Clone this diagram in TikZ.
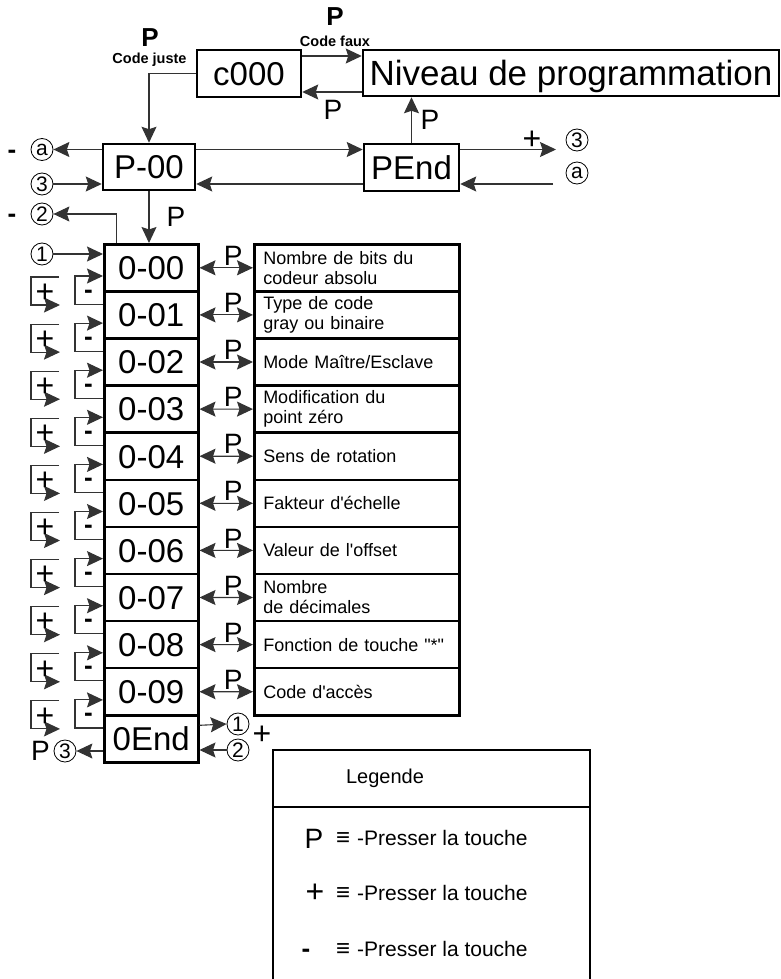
\documentclass[tikz,border=0pt]{standalone}
\usepackage{fontspec}
\setmainfont{Liberation Sans}
\usetikzlibrary{arrows.meta,calc}
\tikzset{
  box/.style={draw, line width=2.5pt, inner sep=0, text height=23.6pt, text depth=0pt, font=\fontsize{33}{36}\selectfont},
  rowbox/.style={box, anchor=north west, minimum width=94, minimum height=47.1},
  desc/.style={draw, line width=2.5pt, anchor=north west, minimum width=205, minimum height=47.1, text width=187, inner xsep=9, inner ysep=0, align=left, font=\fontsize{18}{20}\selectfont},
  tip/.tip={Stealth[length=16pt,width=15pt,inset=2.5pt]},
  con/.style={draw=black!80, line width=1.1pt, -tip},
  dcon/.style={draw=black!80, line width=1.1pt, tip-tip},
  lbl/.style={inner sep=0, font=\fontsize{28}{30}\selectfont},
  plus/.style={inner sep=0, font=\fontsize{32}{34}\selectfont},
  minus/.style={inner sep=0, anchor=base, font=\fontsize{26}{28}\selectfont\bfseries},
  bold/.style={inner sep=0, font=\fontsize{26}{28}\selectfont\bfseries},
  small/.style={inner sep=0, font=\fontsize{14.5}{16}\selectfont\bfseries},
  circ/.style={draw, circle, line width=0.8pt, minimum size=22pt, inner sep=0, font=\fontsize{21}{21}\selectfont},
  leg/.style={inner sep=0, font=\fontsize{21}{23}\selectfont},
}
\begin{document}
\begin{tikzpicture}[x=1pt,y=-1pt]
\path[use as bounding box] (0,0) rectangle (781,979);

% top boxes
\node[box, minimum width=104, minimum height=47] (c) at (249,73.5) {c000};
\node[box, minimum width=416, minimum height=46, font=\fontsize{35}{38}\selectfont, text height=25pt] (niv) at (571,73) {Niveau de programmation};
\node[box, minimum width=92, minimum height=46] (p00) at (149,167) {P-00};
\node[box, minimum width=95, minimum height=47] (pend) at (411.5,167.5) {PEnd};

% top labels
\node[bold] (pj) at (150,37.5) {P};
\node[small] (cj) at (149.5,60) {Code juste};
\node[bold] (pf) at (335,17) {P};
\node[small] (cf) at (335,41) {Code faux};
\node[lbl] (pb) at (333,110) {P};
\node[lbl] (pu) at (430,120) {P};

% circles
\node[circ] (ca) at (42,149.5) {a};
\node[circ] (c3) at (42,184) {3};
\node[circ] (c2) at (42,214) {2};
\node[circ] (c1) at (42,254) {1};
\node[minus] (m1) at (12,158) {-};
\node[minus] (m2) at (12,222) {-};
\node[circ] (c3r) at (577,140) {3};
\node[circ] (car) at (577,173) {a};
\node[plus] (pr) at (532,140) {+};
\coordinate (e3) at (556,149.5);
\coordinate (sa) at (553,184);

% top connectors
\draw[con] (c.west) -| (p00.north);
\draw[con] ([yshift=17.5pt]c.east) -- ([yshift=17.5pt]c.east -| niv.west);
\draw[con] ([yshift=-19pt]niv.west) -- ([yshift=-19pt]niv.west -| c.east);
\draw[con] (pend.north) -- (pend.north |- niv.south);
\draw[con] ([yshift=17.5pt]p00.west) -- (ca.east);
\draw[con] (c3.east) -- (c3.east -| p00.west);
\draw[con] ([yshift=17.5pt]p00.east) -- ([yshift=17.5pt]p00.east -| pend.west);
\draw[con] ([yshift=-16.5pt]pend.west) -- ([yshift=-16.5pt]pend.west -| p00.east);
\draw[con] ([yshift=18pt]pend.east) -- (e3);
\draw[con] (sa) -- (sa -| pend.east);

% rows
\foreach \i/\t in {0/0-00,1/0-01,2/0-02,3/0-03,4/0-04,5/0-05,6/0-06,7/0-07,8/0-08,9/0-09,10/0End}
  \node[rowbox] (r\i) at (103,{243+47.1*\i}) {\t};

\node[desc] (d0) at (253,243) {Nombre de bits du\\codeur absolu};
\node[desc] (d1) at (253,290.1) {Type de code\\gray ou binaire};
\node[desc] (d2) at (253,337.2) {Mode Maître/Esclave};
\node[desc] (d3) at (253,384.3) {Modification du\\point zéro};
\node[desc] (d4) at (253,431.4) {Sens de rotation};
\node[desc] (d5) at (253,478.5) {Fakteur d\textquotesingle échelle};
\node[desc] (d6) at (253,525.6) {Valeur de l\textquotesingle offset};
\node[desc] (d7) at (253,572.7) {Nombre\\de décimales};
\node[desc] (d8) at (253,619.8) {Fonction de touche \textquotedbl*\textquotedbl};
\node[desc] (d9) at (253,666.9) {Code d\textquotesingle accès};

\foreach \i in {0,...,9} {
  \draw[dcon] (r\i.east) -- (d\i.west);
  \node[lbl] (pl\i) at ($(r\i.east)!0.5!(d\i.west)+(7,-12)$) {P};
}

\foreach \i [evaluate=\i as \j using int(\i+1)] in {0,...,9} {
  \draw[con] ([yshift=-14pt]r\j.north west) -- ++(-28,0) |- ([yshift=-33pt]r\i.north west);
  \node[minus] (mn\i) at ($(r\i.north west)+(-14.5,55)$) {-};
  \draw[con] ($(r\i.north west)+(-44,34)$) -- ++(-28,0) -- ++(0,28) -- ++(29,0);
  \node[plus] (pp\i) at ($(r\i.north west)+(-58,50)$) {+};
}

% P-00 down and 2 loop
\draw[con] (p00.south) -- (p00.south |- r0.north);
\node[lbl] (pdn) at (176,217) {P};
\draw[con] ([xshift=-35pt]r0.north) |- (c2.east);
\draw[con] (c1.east) -- (c1.east -| r0.west);

% 0End connectors
\node[circ] (c1r) at (238,724) {1};
\node[circ] (c2r) at (238,750) {2};
\node[circ] (c3l) at (65,751) {3};
\node[lbl] (pbl) at (40.5,751) {P};
\node[plus] (pe) at (262,735) {+};
\draw[con] ([yshift=13.5pt]r10.east) -- (c1r.west);
\draw[con] (c2r.west) -- (c2r.west -| r10.east);
\draw[con] (c3l.east -| r10.west) -- (c3l.east);

% legend
\node[draw, line width=2.2pt, outer sep=0, inner sep=0, anchor=north west, minimum width=317, minimum height=57] (lg) at (273,750) {};
\draw[line width=2.2pt] (lg.south west) -- (lg.south west |- 0,979);
\draw[line width=2.2pt] (lg.south east) -- (lg.south east |- 0,979);
\node[inner sep=0, font=\fontsize{20}{22}\selectfont] (lgt) at (385,778) {Legende};
\node[lbl] (lk1) at (314,839) {P};
\node[plus] (lk2) at (315,893) {+};
\node[minus] (lk3) at (306,957) {-};
\foreach \y [count=\k] in {838,893,949} {
  \node[leg, anchor=base, font=\fontsize{24}{24}\selectfont\bfseries] (leq\k) at (343,{\y+7}) {≡};
  \node[leg, anchor=west] (lt\k) at (357,\y) {-Presser la touche};
}
\end{tikzpicture}
\end{document}
